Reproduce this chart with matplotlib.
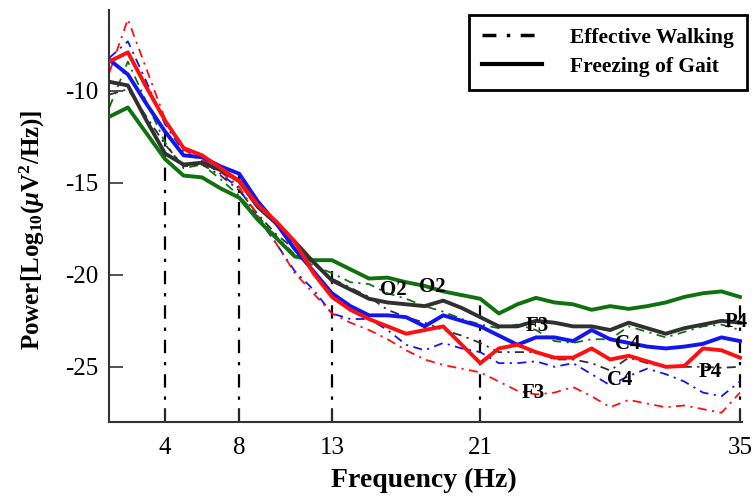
"""EEG power spectra: effective walking vs freezing of gait"""

import numpy as np
import matplotlib
matplotlib.use('Agg')
import matplotlib.pyplot as plt
from matplotlib.lines import Line2D

plt.rcParams['font.family'] = ['Liberation Serif', 'DejaVu Serif']
plt.rcParams['mathtext.fontset'] = 'custom'
plt.rcParams['mathtext.rm'] = 'Liberation Serif:bold'
plt.rcParams['mathtext.it'] = 'Liberation Serif:italic:bold'
plt.rcParams['mathtext.bf'] = 'Liberation Serif:bold'
plt.rcParams['axes.unicode_minus'] = False

# frequency bins (Hz)
freq = np.arange(1, 36)

# Freezing of Gait (solid)
fog_O2 = [-11.4, -10.9, -12.3, -13.7, -14.6, -14.7, -15.3, -15.8, -17.0, -18.0,
          -19.0, -19.2, -19.2, -19.7, -20.2, -20.15, -20.4, -20.6, -20.9, -21.1,
          -21.3, -22.1, -21.6, -21.25, -21.5, -21.6, -21.9, -21.7, -21.85, -21.7,
          -21.5, -21.2, -21.0, -20.9, -21.2]
fog_P4 = [-9.5, -9.7, -11.6, -13.4, -14.0, -13.9, -14.3, -14.9, -16.3, -17.2,
          -18.2, -19.3, -20.3, -20.8, -21.3, -21.5, -21.6, -21.7, -21.4, -21.8,
          -22.3, -22.8, -22.8, -22.5, -22.6, -22.8, -22.8, -23.0, -22.6, -22.9,
          -23.2, -22.9, -22.7, -22.5, -22.6]
fog_C4 = [-8.3, -9.1, -10.7, -12.2, -13.5, -13.6, -14.1, -14.5, -16.0, -17.2,
          -18.6, -19.8, -21.0, -21.7, -22.2, -22.2, -22.3, -22.8, -22.2, -22.5,
          -22.8, -23.3, -23.8, -23.4, -23.4, -23.6, -23.0, -23.5, -23.7, -23.9,
          -24.0, -23.9, -23.75, -23.4, -23.6]
fog_F3 = [-8.4, -7.9, -9.8, -11.6, -13.1, -13.5, -14.2, -14.9, -16.2, -17.1,
          -18.2, -19.9, -21.2, -21.9, -22.4, -22.8, -23.2, -23.0, -22.8, -23.8,
          -24.8, -24.0, -23.8, -24.2, -24.5, -24.5, -24.0, -24.6, -24.4, -24.7,
          -25.0, -24.95, -24.0, -24.1, -24.5]

# Effective Walking (dash-dot)
ew_O2 = [-10.9, -8.4, -10.6, -12.8, -14.2, -14.0, -14.8, -15.7, -16.8, -17.9,
         -18.9, -19.5, -19.9, -20.4, -20.5, -21.0, -21.3, -21.7, -22.0, -22.4,
         -22.7, -22.9, -22.7, -23.0, -23.6, -23.7, -23.5, -23.5, -22.8, -23.1,
         -23.4, -23.1, -22.8, -22.7, -23.0]
ew_P4 = [-10.2, -9.9, -11.4, -12.9, -14.1, -14.0, -14.6, -15.4, -16.7, -17.8,
         -18.6, -19.4, -20.2, -20.7, -21.2, -21.9, -22.3, -22.6, -23.0, -23.3,
         -23.7, -24.2, -24.2, -24.2, -24.6, -24.6, -24.8, -25.2, -24.5, -24.8,
         -25.0, -25.0, -25.0, -25.05, -25.0]
ew_C4 = [-8.2, -7.3, -9.5, -11.8, -13.3, -13.8, -14.5, -15.3, -16.9, -18.3,
         -19.8, -20.8, -22.1, -22.4, -22.4, -23.0, -23.8, -24.1, -23.7, -24.0,
         -24.2, -24.8, -24.8, -24.7, -25.0, -24.8, -25.4, -26.0, -25.5, -25.1,
         -25.4, -25.8, -26.4, -26.6, -25.8]
ew_F3 = [-9.0, -6.1, -8.8, -11.5, -13.2, -13.7, -14.4, -15.2, -16.8, -18.3,
         -19.9, -21.0, -22.1, -22.6, -23.0, -23.5, -24.1, -24.6, -24.9, -25.1,
         -25.3, -25.8, -26.3, -26.5, -26.4, -26.1, -26.6, -27.2, -26.8, -27.0,
         -27.2, -27.1, -27.3, -27.5, -26.4]

band_edges = [4, 8, 13, 21, 35]
yticks = [-10, -15, -20, -25]

green = '#0f720f'
black = '#303030'
red = '#ff1010'
blue = '#1515ee'
dashdot = (0, (5, 3, 1.2, 3))

fig = plt.figure(figsize=(7.56, 4.97), dpi=100)
ax = fig.add_axes([0.1446, 0.1509, 0.8367, 0.8289])

# dash-dot band markers, up to the highest curve
all_series = np.array([fog_O2, fog_P4, fog_C4, fog_F3, ew_O2, ew_P4, ew_C4, ew_F3])
for f in band_edges:
    top = all_series[:, f - 1].max()
    ax.plot([f, f], [-28, top], color='black', lw=1.6,
            linestyle=(0, (6, 4, 1.5, 4)), zorder=1)

# effective walking, thin dash-dot
for vals, col in [(ew_O2, green), (ew_P4, black), (ew_C4, blue), (ew_F3, red)]:
    ax.plot(freq, vals, color=col, lw=1.3, linestyle=dashdot, zorder=2)

# freezing of gait, thick solid
for vals, col in [(fog_O2, green), (fog_P4, black), (fog_C4, blue), (fog_F3, red)]:
    ax.plot(freq, vals, color=col, lw=2.8, zorder=3)

# channel labels
labels = [('O2', 16.29, -20.82), ('O2', 18.39, -20.65),
          ('F3', 24.05, -22.77), ('F3', 23.84, -26.41),
          ('C4', 28.96, -23.75), ('C4', 28.53, -25.71),
          ('P4', 34.78, -22.55), ('P4', 33.38, -25.27)]
for txt, x, y in labels:
    ax.text(x, y, txt, fontsize=15, fontweight='bold', ha='center', va='center', zorder=4)

ax.set_xlim(1, 35.1)
ax.set_ylim(-28, -5.6)
ax.set_xticks(band_edges)
ax.set_yticks(yticks)
ax.tick_params(axis='both', direction='in', length=10, width=1.2, labelsize=18, colors='#333333',
               labelcolor='black')
ax.tick_params(axis='x', pad=11)
ax.tick_params(axis='y', pad=8)
for side in ['top', 'right']:
    ax.spines[side].set_visible(False)
for side in ['left', 'bottom']:
    ax.spines[side].set_linewidth(1.5)
    ax.spines[side].set_color('#333333')

ax.set_xlabel('Frequency (Hz)', fontsize=20, fontweight='bold')
ax.xaxis.set_label_coords((424 - 109.35) / 632.6, -(480 - 422) / 412)
ax.xaxis.label.set_va('center')
ax.set_ylabel(r'Power[Log$_{10}$($\mu$V$^2$/Hz)]', fontsize=18, fontweight='bold')
ax.yaxis.set_label_coords((32 - 109.35) / 632.6, (422 - 230) / 412)
ax.yaxis.label.set_va('center')

handles = [Line2D([], [], color='black', lw=2.5, linestyle=(0, (4, 3, 1, 3))),
           Line2D([], [], color='black', lw=3.0)]
leg = ax.legend(handles, ['Effective Walking', 'Freezing of Gait'],
                loc='upper right', bbox_to_anchor=(747 / 756, 1 - 15 / 497),
                bbox_transform=fig.transFigure, borderaxespad=0,
                fancybox=False, framealpha=1, edgecolor='black',
                prop={'family': 'Liberation Serif', 'weight': 'bold', 'size': 15.5},
                handlelength=2.8, handletextpad=1.3, borderpad=0.6, labelspacing=0.4)
leg.get_frame().set_linewidth(2.0)

plt.savefig('out.png', dpi=100)
